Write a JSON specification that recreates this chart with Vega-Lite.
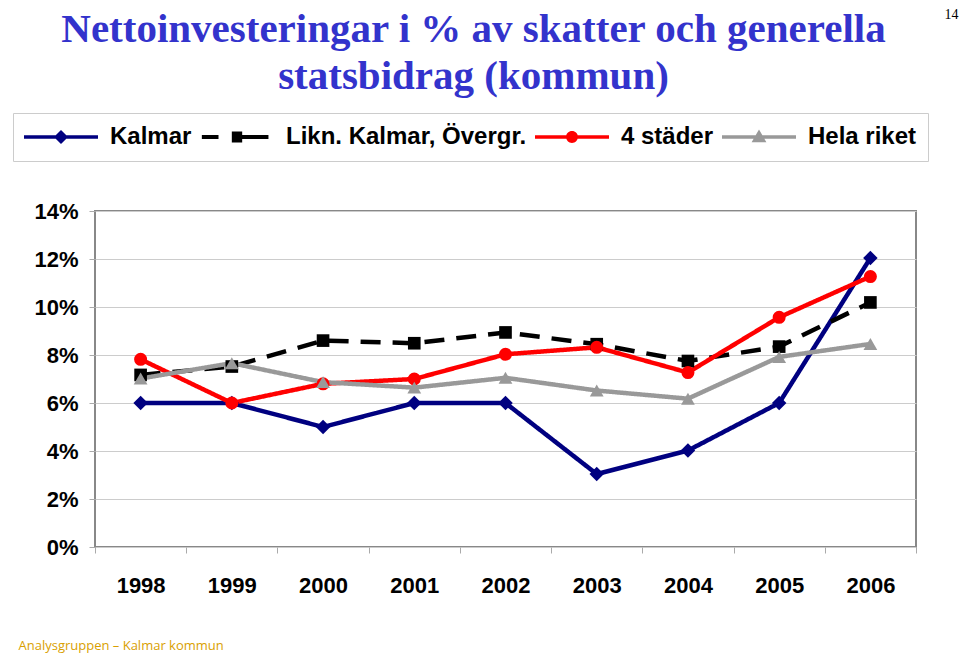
{
  "$schema": "https://vega.github.io/schema/vega-lite/v6.json",
  "autosize": "none",
  "width": 821,
  "height": 336,
  "padding": {"left": 95, "top": 211, "right": 44, "bottom": 118},
  "background": "white",
  "title": {
    "text": ["Nettoinvesteringar i % av skatter och generella", "statsbidrag (kommun)"],
    "font": "Liberation Serif",
    "fontSize": 41,
    "fontWeight": "bold",
    "color": "#3333CC",
    "lineHeight": 47,
    "anchor": "middle",
    "frame": "group",
    "dx": -32,
    "dy": 101,
    "offset": 10
  },
  "config": {
    "view": {"stroke": "#888888", "strokeWidth": 2},
    "font": "Liberation Sans",
    "legend": {
      "orient": "none",
      "legendX": -82,
      "legendY": -98,
      "direction": "horizontal",
      "padding": 11,
      "fillColor": "white",
      "strokeColor": "#cccccc",
      "clipHeight": 26,
      "symbolSize": 5476,
      "symbolStrokeWidth": 0,
      "symbolOpacity": 1,
      "symbolOffset": 0,
      "labelOffset": 12,
      "columnPadding": 8,
      "labelFont": "Liberation Sans",
      "labelFontSize": 24,
      "labelFontWeight": "bold",
      "labelColor": "black",
      "labelLimit": 400
    }
  },
  "data": {
    "values": [
      {"year": "1998", "series": "Kalmar", "value": 6.0},
      {"year": "1999", "series": "Kalmar", "value": 6.0},
      {"year": "2000", "series": "Kalmar", "value": 5.0},
      {"year": "2001", "series": "Kalmar", "value": 6.0},
      {"year": "2002", "series": "Kalmar", "value": 6.0},
      {"year": "2003", "series": "Kalmar", "value": 3.04},
      {"year": "2004", "series": "Kalmar", "value": 4.02},
      {"year": "2005", "series": "Kalmar", "value": 6.0},
      {"year": "2006", "series": "Kalmar", "value": 12.04},
      {"year": "1998", "series": "Likn. Kalmar, Övergr.", "value": 7.17},
      {"year": "1999", "series": "Likn. Kalmar, Övergr.", "value": 7.52},
      {"year": "2000", "series": "Likn. Kalmar, Övergr.", "value": 8.6},
      {"year": "2001", "series": "Likn. Kalmar, Övergr.", "value": 8.49},
      {"year": "2002", "series": "Likn. Kalmar, Övergr.", "value": 8.94},
      {"year": "2003", "series": "Likn. Kalmar, Övergr.", "value": 8.45},
      {"year": "2004", "series": "Likn. Kalmar, Övergr.", "value": 7.75},
      {"year": "2005", "series": "Likn. Kalmar, Övergr.", "value": 8.35},
      {"year": "2006", "series": "Likn. Kalmar, Övergr.", "value": 10.19},
      {"year": "1998", "series": "4 städer", "value": 7.82},
      {"year": "1999", "series": "4 städer", "value": 6.0},
      {"year": "2000", "series": "4 städer", "value": 6.8},
      {"year": "2001", "series": "4 städer", "value": 7.0},
      {"year": "2002", "series": "4 städer", "value": 8.03},
      {"year": "2003", "series": "4 städer", "value": 8.32},
      {"year": "2004", "series": "4 städer", "value": 7.27},
      {"year": "2005", "series": "4 städer", "value": 9.57},
      {"year": "2006", "series": "4 städer", "value": 11.27},
      {"year": "1998", "series": "Hela riket", "value": 7.02},
      {"year": "1999", "series": "Hela riket", "value": 7.66},
      {"year": "2000", "series": "Hela riket", "value": 6.87},
      {"year": "2001", "series": "Hela riket", "value": 6.64},
      {"year": "2002", "series": "Hela riket", "value": 7.05},
      {"year": "2003", "series": "Hela riket", "value": 6.52},
      {"year": "2004", "series": "Hela riket", "value": 6.18},
      {"year": "2005", "series": "Hela riket", "value": 7.92},
      {"year": "2006", "series": "Hela riket", "value": 8.46}
    ]
  },
  "encoding": {
    "x": {
      "field": "year",
      "type": "ordinal",
      "bandPosition": 0.5,
      "scale": {"type": "band", "paddingInner": 0, "paddingOuter": 0},
      "axis": {
        "title": "Analysgruppen – Kalmar kommun",
        "titleX": -77,
        "titleY": 102,
        "titleAlign": "left",
        "titleAnchor": "start",
        "titleBaseline": "alphabetic",
        "titleFont": "Open Sans",
        "titleFontSize": 13,
        "titleFontWeight": "normal",
        "titleColor": "#D9A000",
        "labelAngle": 0,
        "labelFont": "Liberation Sans",
        "labelFontSize": 22,
        "labelFontWeight": "bold",
        "labelColor": "black",
        "labelPadding": 22,
        "tickBand": "extent",
        "tickColor": "#aaaaaa",
        "tickSize": 6,
        "domain": false
      }
    },
    "y": {
      "field": "value",
      "type": "quantitative",
      "scale": {"domain": [0, 14], "nice": false},
      "axis": {
        "values": [0, 2, 4, 6, 8, 10, 12, 14],
        "labelExpr": "datum.value + '%'",
        "title": "14",
        "titleAngle": 0,
        "titleX": 863,
        "titleY": -197,
        "titleAlign": "right",
        "titleBaseline": "middle",
        "titleFont": "Liberation Serif",
        "titleFontSize": 14,
        "titleFontWeight": "normal",
        "titleColor": "black",
        "labelFont": "Liberation Sans",
        "labelFontSize": 22,
        "labelFontWeight": "bold",
        "labelColor": "black",
        "labelPadding": 11,
        "tickColor": "#aaaaaa",
        "tickSize": 6,
        "grid": true,
        "gridColor": "#cccccc",
        "gridWidth": 1,
        "domain": false
      }
    },
    "color": {
      "field": "series",
      "type": "nominal",
      "scale": {
        "domain": ["Kalmar", "Likn. Kalmar, Övergr.", "4 städer", "Hela riket"],
        "range": ["#000080", "#000000", "#FF0000", "#999999"]
      },
      "legend": {"title": null}
    }
  },
  "layer": [
    {
      "mark": {"type": "line", "strokeWidth": 4.5},
      "encoding": {
        "strokeDash": {
          "field": "series",
          "type": "nominal",
          "scale": {
            "domain": ["Kalmar", "Likn. Kalmar, Övergr.", "4 städer", "Hela riket"],
            "range": [[1, 0], [20, 12], [1, 0], [1, 0]]
          },
          "legend": null
        }
      }
    },
    {
      "mark": {"type": "point", "filled": true, "opacity": 0, "size": 10},
      "encoding": {
        "shape": {
          "field": "series",
          "type": "nominal",
          "scale": {
            "domain": ["Kalmar", "Likn. Kalmar, Övergr.", "4 städer", "Hela riket"],
            "range": [
              "M-1,-0.05H1V0.05H-1Z M0,-0.19L0.19,0L0,0.19L-0.19,0Z",
              "M-0.95,-0.055H-0.5V0.055H-0.95Z M-0.14,-0.15H0.14V0.15H-0.14Z M0.1,-0.055H0.85V0.055H0.1Z",
              "M-1,-0.05H1V0.05H-1Z M-0.16,0A0.16,0.16 0 1,1 0.16,0A0.16,0.16 0 1,1 -0.16,0Z",
              "M-1,-0.05H1V0.05H-1Z M0,-0.2L0.2,0.14L-0.2,0.14Z"
            ]
          },
          "legend": {"title": null}
        }
      }
    },
    {
      "transform": [{"filter": {"field": "series", "equal": "Kalmar"}}],
      "mark": {"type": "point", "filled": true, "opacity": 1, "shape": "diamond", "size": 210}
    },
    {
      "transform": [{"filter": {"field": "series", "equal": "Likn. Kalmar, Övergr."}}],
      "mark": {"type": "point", "filled": true, "opacity": 1, "shape": "square", "size": 160}
    },
    {
      "transform": [{"filter": {"field": "series", "equal": "4 städer"}}],
      "mark": {"type": "point", "filled": true, "opacity": 1, "shape": "circle", "size": 170}
    },
    {
      "transform": [{"filter": {"field": "series", "equal": "Hela riket"}}],
      "mark": {"type": "point", "filled": true, "opacity": 1, "shape": "triangle-up", "size": 190}
    }
  ]
}
